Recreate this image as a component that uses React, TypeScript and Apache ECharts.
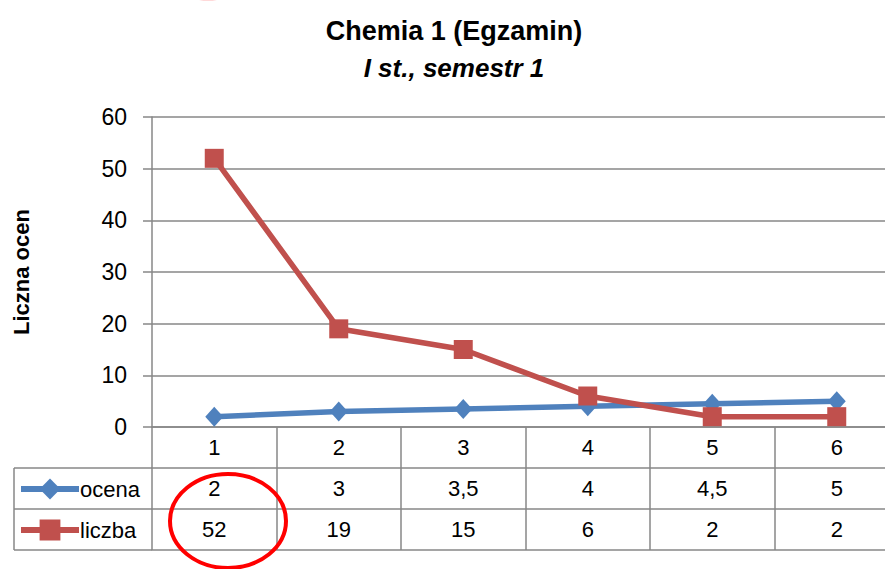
import React, { useEffect, useRef } from "react";
import * as echarts from "echarts";

const categories = ["1", "2", "3", "4", "5", "6"];
const ocena = [2, 3, 3.5, 4, 4.5, 5];
const liczba = [52, 19, 15, 6, 2, 2];
const yTicks = { min: 0, max: 60, interval: 10 };

const FONT = "'Liberation Sans', Arial, sans-serif";
const GRID = "#878787";

export default function App() {
  const ref = useRef<HTMLDivElement>(null);
  useEffect(() => {
    document.body.style.margin = "0";
    document.body.style.overflow = "hidden";
    if (!ref.current) return;
    const chart = echarts.init(ref.current, undefined, { renderer: "svg" });
    const fmt = (v: number) => String(v).replace(".", ",");
    const tableAxis = (data: string[], offset: number, showLabel: boolean) => ({
      type: "category",
      position: "bottom",
      offset,
      data,
      boundaryGap: true,
      axisLine: { show: true, lineStyle: { color: GRID, width: 1.5 } },
      axisTick: { show: showLabel, interval: 0, length: 41, lineStyle: { color: GRID, width: 1.5 } },
      axisLabel: { show: showLabel, interval: 0, margin: 9, fontSize: 22, color: "#000", fontFamily: FONT },
      splitLine: { show: false },
    });
    chart.setOption({
      animation: false,
      textStyle: { fontFamily: FONT },
      title: {
        text: "Chemia 1 (Egzamin)",
        subtext: "I st., semestr 1",
        left: 449,
        textAlign: "center",
        top: 12,
        itemGap: 11,
        textStyle: { fontSize: 27, fontWeight: "bold", color: "#000", fontFamily: FONT },
        subtextStyle: { fontSize: 26, fontWeight: "bold", fontStyle: "italic", color: "#000", fontFamily: FONT },
      },
      grid: { left: 152, top: 117, width: 747, height: 310, containLabel: false },
      legend: {
        orient: "vertical",
        left: 18,
        top: 476,
        padding: 0,
        itemWidth: 58,
        itemHeight: 26,
        itemGap: 15,
        lineStyle: { width: 6 },
        textStyle: { fontSize: 22, lineHeight: 26, color: "#000", fontFamily: FONT, padding: [0, 0, 0, -4] },
        data: ["ocena", "liczba"],
      },
      xAxis: [
        tableAxis(categories, 0, true),
        tableAxis(ocena.map(fmt), 41, true),
        tableAxis(liczba.map(String), 82, true),
        tableAxis(categories, 123, false),
      ],
      yAxis: {
        type: "value",
        min: yTicks.min,
        max: yTicks.max,
        interval: yTicks.interval,
        name: "Liczna ocen",
        nameLocation: "middle",
        nameRotate: 90,
        nameGap: 120,
        nameTextStyle: { fontSize: 22, fontWeight: "bold", color: "#000", fontFamily: FONT },
        axisLine: { show: true, lineStyle: { color: GRID, width: 1.5 } },
        axisTick: { show: true, length: 9, lineStyle: { color: GRID, width: 1.5 } },
        axisLabel: { fontSize: 23, color: "#000", margin: 25, fontFamily: FONT },
        splitLine: { show: true, lineStyle: { color: GRID, width: 1.5 } },
      },
      series: [
        {
          name: "ocena",
          type: "line",
          data: ocena,
          symbol: "diamond",
          symbolSize: [18, 20],
          itemStyle: { color: "#4F81BD" },
          lineStyle: { color: "#4F81BD", width: 5.5 },
        },
        {
          name: "liczba",
          type: "line",
          data: liczba,
          symbol: "rect",
          symbolSize: 19,
          itemStyle: { color: "#C0504D" },
          lineStyle: { color: "#C0504D", width: 5.5 },
        },
      ],
      graphic: [
        { type: "line", shape: { x1: 14, y1: 468, x2: 152, y2: 468 }, style: { stroke: GRID, lineWidth: 1.5 } },
        { type: "line", shape: { x1: 14, y1: 509, x2: 152, y2: 509 }, style: { stroke: GRID, lineWidth: 1.5 } },
        { type: "line", shape: { x1: 14, y1: 550, x2: 152, y2: 550 }, style: { stroke: GRID, lineWidth: 1.5 } },
        { type: "line", shape: { x1: 14, y1: 468, x2: 14, y2: 550 }, style: { stroke: GRID, lineWidth: 1.5 } },
        {
          type: "ellipse",
          z: 100,
          shape: { cx: 228, cy: 521, rx: 58, ry: 47 },
          style: { fill: "none", stroke: "#ff0000", lineWidth: 4 },
        },
        {
          type: "ellipse",
          z: 100,
          shape: { cx: 208, cy: -48, rx: 58, ry: 47 },
          style: { fill: "none", stroke: "#ff0000", lineWidth: 3, opacity: 0.3 },
        },
      ],
    });
    return () => chart.dispose();
  }, []);
  return <div ref={ref} style={{ width: 905, height: 569 }} />;
}
